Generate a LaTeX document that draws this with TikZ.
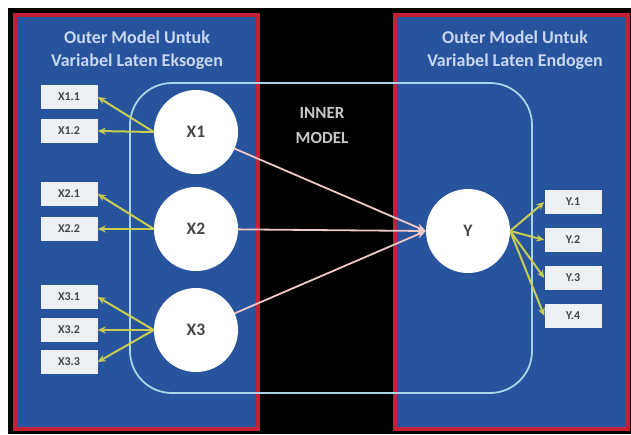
\documentclass[tikz,border=0pt]{standalone}
\usepackage{fontspec}
\setmainfont{Carlito}
\usetikzlibrary{arrows.meta}
\definecolor{panelblue}{RGB}{40,84,158}
\definecolor{panelred}{RGB}{196,32,52}
\definecolor{titlecol}{RGB}{200,214,238}
\definecolor{boxfill}{RGB}{236,240,244}
\definecolor{labcol}{RGB}{70,70,70}
\definecolor{outerarrow}{RGB}{200,204,80}
\definecolor{innerarrow}{RGB}{240,200,196}
\definecolor{framecol}{RGB}{170,212,232}
\definecolor{innertext}{RGB}{200,200,200}
\tikzset{
  panel/.style={fill=panelblue, draw=panelred, line width=4pt},
  title/.style={text=titlecol, font=\fontsize{18}{23}\selectfont\bfseries, align=center},
  indbox/.style={fill=boxfill, draw=none, minimum width=57pt, minimum height=24pt, inner sep=0pt, text=labcol, font=\fontsize{12}{13}\selectfont\bfseries},
  latent/.style={circle, fill=white, draw=none, minimum size=84pt, inner sep=0pt, text=labcol, font=\fontsize{17.5}{18}\selectfont\bfseries},
  outarr/.style={draw=outerarrow, line width=2pt, -{Stealth[length=8pt,width=7pt]}},
  inarr/.style={draw=innerarrow, line width=1.8pt, -{Stealth[length=9pt,width=8pt]}},
  innerframe/.style={draw=framecol, line width=1.8pt, rounded corners=42pt},
  innerlab/.style={text=innertext, font=\fontsize{17}{25}\selectfont\bfseries, align=center}
}
\begin{document}
\begin{tikzpicture}[x=1pt,y=-1pt]
\useasboundingbox (0,0) rectangle (631,434);
\fill[white] (0,0) rectangle (631,434);
\fill[black] (8,8) rectangle (631,434);
\draw[panel] (15,15) rectangle (258,429);
\draw[panel] (395,15) rectangle (628,429);
\node[title] (tl) at (137,50) {Outer Model Untuk\\Variabel Laten Eksogen};
\node[title] (tr) at (515,50) {Outer Model Untuk\\Variabel Laten Endogen};
\node[innerlab] (inn) at (322,126) {INNER\\MODEL};
\draw[innerframe] (130,83) rectangle (532,393);
% latent variables
\node[latent] (X1) at (196,132) {X1};
\node[latent] (X2) at (196,229) {X2};
\node[latent] (X3) at (196,330) {X3};
\node[latent] (Y) at (468,231) {Y};
% indicator boxes
\node[indbox] (x11) at (69,97) {X1.1};
\node[indbox] (x12) at (69,131) {X1.2};
\node[indbox] (x21) at (69,194) {X2.1};
\node[indbox] (x22) at (69,229) {X2.2};
\node[indbox] (x31) at (69,297) {X3.1};
\node[indbox] (x32) at (69,330) {X3.2};
\node[indbox] (x33) at (69,362) {X3.3};
\node[indbox] (y1) at (573,202) {Y.1};
\node[indbox] (y2) at (573,240) {Y.2};
\node[indbox] (y3) at (573,278) {Y.3};
\node[indbox] (y4) at (573,316) {Y.4};
% outer arrows
\draw[outarr] (X1.west) -- (x11.east);
\draw[outarr] (X1.west) -- (x12.east);
\draw[outarr] (X2.west) -- (x21.east);
\draw[outarr] (X2.west) -- (x22.east);
\draw[outarr] (X3.west) -- (x31.east);
\draw[outarr] (X3.west) -- (x32.east);
\draw[outarr] (X3.west) -- (x33.east);
\draw[outarr] (Y.east) -- (y1.west);
\draw[outarr] (Y.east) -- (y2.west);
\draw[outarr] (Y.east) -- (y3.west);
\draw[outarr] (Y.east) -- (y4.west);
% inner arrows
\draw[inarr] (X1) -- (Y.west);
\draw[inarr] (X2) -- (Y.west);
\draw[inarr] (X3) -- (Y.west);
\end{tikzpicture}
\end{document}
